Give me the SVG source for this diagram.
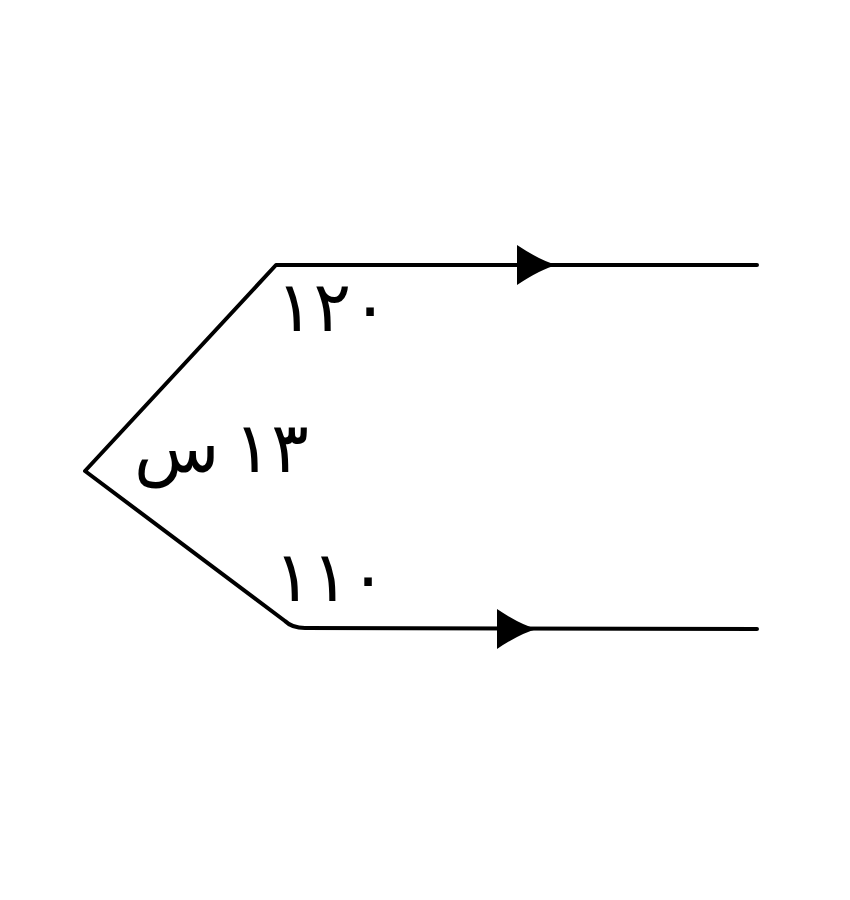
<svg xmlns="http://www.w3.org/2000/svg" width="850" height="900" viewBox="0 0 850 900">
<style>
.ln{fill:none;stroke:#000;stroke-width:4;stroke-linejoin:round;stroke-linecap:round}
.lb{font-family:"DejaVu Sans","Noto Sans",sans-serif;font-size:70px;fill:#000}
</style>
<defs>
<path id="ah" d="M0,0 L0,-20 Q24,-4 40,0 Q24,4 0,20 Z" fill="#000"/>
</defs>
<rect width="850" height="900" fill="#fff"/>
<g id="connectors">
<path class="ln" d="M757,265 L276,265 L85,471 L285,621 Q292,628 305,628 L757,629"/>
<use href="#ah" x="517" y="265"/>
<use href="#ah" x="497" y="629"/>
</g>
<g id="label-top"><text class="lb" x="276" y="331">١٢٠</text></g>
<g id="label-mid"><text class="lb" x="134" y="472" word-spacing="-8">١٣ س</text></g>
<g id="label-bot"><text class="lb" x="274" y="601">١١٠</text></g>
</svg>
